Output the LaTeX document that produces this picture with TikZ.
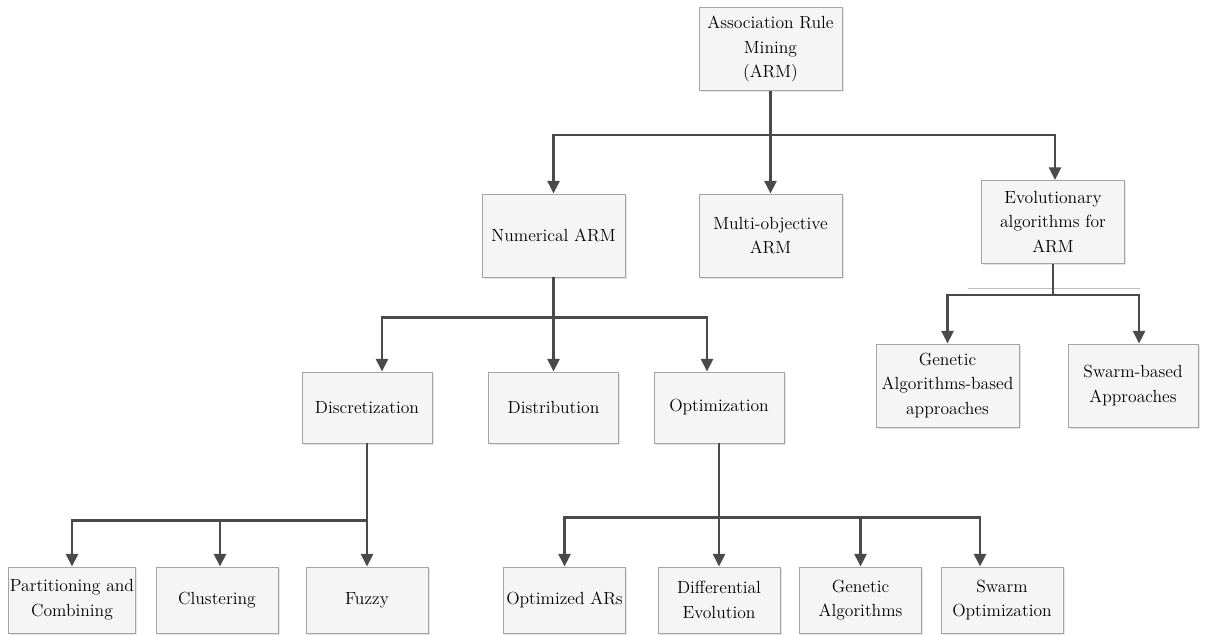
\documentclass[tikz,border=0pt]{standalone}
\usepackage{tikz}
\usetikzlibrary{positioning}
\usetikzlibrary{arrows.meta}
\usetikzlibrary{shadows}
\definecolor{boxfill}{HTML}{F5F5F5}
\definecolor{boxline}{HTML}{A4A4A4}
\definecolor{linkgray}{HTML}{4A4A4A}
\tikzset{
every node/.style={ % Sets the text for each box
font=\fontsize{12.5}{17.5}\selectfont,
align=center},
box/.style={ % Grey boxes of the tree
draw=boxline,
line width=0.6pt,
fill=boxfill,
inner sep=1pt,
drop shadow={shadow xshift=1.2pt, shadow yshift=-1.2pt, fill=black!10, opacity=1}},
bigbox/.style={box, minimum width=3.575cm, minimum height=2.075cm},
midbox/.style={box, minimum width=3.25cm, minimum height=1.775cm},
smallbox/.style={box, minimum width=3.05cm, minimum height=1.65cm},
link/.style={ % Elbow connectors with filled heads
draw=linkgray,
line width=1.7pt,
-{Triangle[length=9pt,width=8.5pt]}},
trunk/.style={draw=linkgray, line width=1.7pt},
thinrule/.style={draw=black!25, line width=0.6pt}}

\begin{document}
\begin{tikzpicture}[x=0.025cm, y=-0.025cm]
\useasboundingbox (0,0) rectangle (1207,635);
\node[bigbox] (arm) at (770.5,49) {Association Rule\\Mining\\(ARM)};
\node[bigbox] (num) at (553.5,235.5) {Numerical ARM};
\node[bigbox] (multi) at (770.5,235.5) {Multi-objective\\ARM};
\node[bigbox] (evo) at (1053,222) {Evolutionary\\algorithms for\\ARM};
\node[bigbox] (gab) at (947.5,385.5) {Genetic\\Algorithms-based\\approaches};
\node[box, minimum width=3.25cm, minimum height=2.075cm] (swb) at (1133,385.5) {Swarm-based\\Approaches};
\node[midbox] (disc) at (367,407.5) {Discretization};
\node[midbox] (dist) at (553.5,407.5) {Distribution};
\node[midbox] (opt) at (719,407.5) {Optimization};
\node[smallbox] (part) at (72,600) {Partitioning and\\Combining};
\node[smallbox] (clus) at (217,600) {Clustering};
\node[smallbox] (fuzzy) at (367,600) {Fuzzy};
\node[smallbox] (oars) at (564.5,600) {Optimized ARs};
\node[smallbox] (diff) at (719,600) {Differential\\Evolution};
\node[smallbox] (ga) at (860.5,600) {Genetic\\Algorithms};
\node[smallbox] (swo) at (1002,600) {Swarm\\Optimization};
% junctions on the buses
\coordinate (armbus) at ([yshift=-1.1cm]arm.south);
\coordinate (evobus) at ([yshift=-0.775cm]evo.south);
\coordinate (numbus) at ([yshift=-1cm]num.south);
\coordinate (discbus) at ([yshift=-1.925cm]disc.south);
\coordinate (optbus) at ([yshift=-1.85cm]opt.south);
% first level
\draw[trunk] (arm.south) -- (armbus);
\draw[link] (armbus) -| (num.north);
\draw[link] (armbus) -- (multi.north);
\draw[link] (armbus) -| ([xshift=0.05cm]evo.north);
% evolutionary branch
\draw[thinrule] (968,288) -- (1140,288);
\draw[trunk] (evo.south) -- (evobus);
\draw[link] (evobus) -| (gab.north);
\draw[link] (evobus) -| ([xshift=0.15cm]swb.north);
% numerical branch
\draw[trunk] (num.south) -- (numbus);
\draw[link] (numbus) -| ([xshift=0.375cm]disc.north);
\draw[link] (numbus) -- (dist.north);
\draw[link] (numbus) -| ([xshift=-0.3cm]opt.north);
% discretization
\draw[trunk] (disc.south) -- (discbus);
\draw[link] (discbus) -| (part.north);
\draw[link] (discbus) -| ([xshift=0.075cm]clus.north);
\draw[link] (discbus) -- (fuzzy.north);
% optimization
\draw[trunk] (opt.south) -- (optbus);
\draw[link] (optbus) -| (oars.north);
\draw[link] (optbus) -- (diff.north);
\draw[link] (optbus) -| (ga.north);
\draw[link] (optbus) -| ([xshift=-0.55cm]swo.north);
\end{tikzpicture}
\end{document}
